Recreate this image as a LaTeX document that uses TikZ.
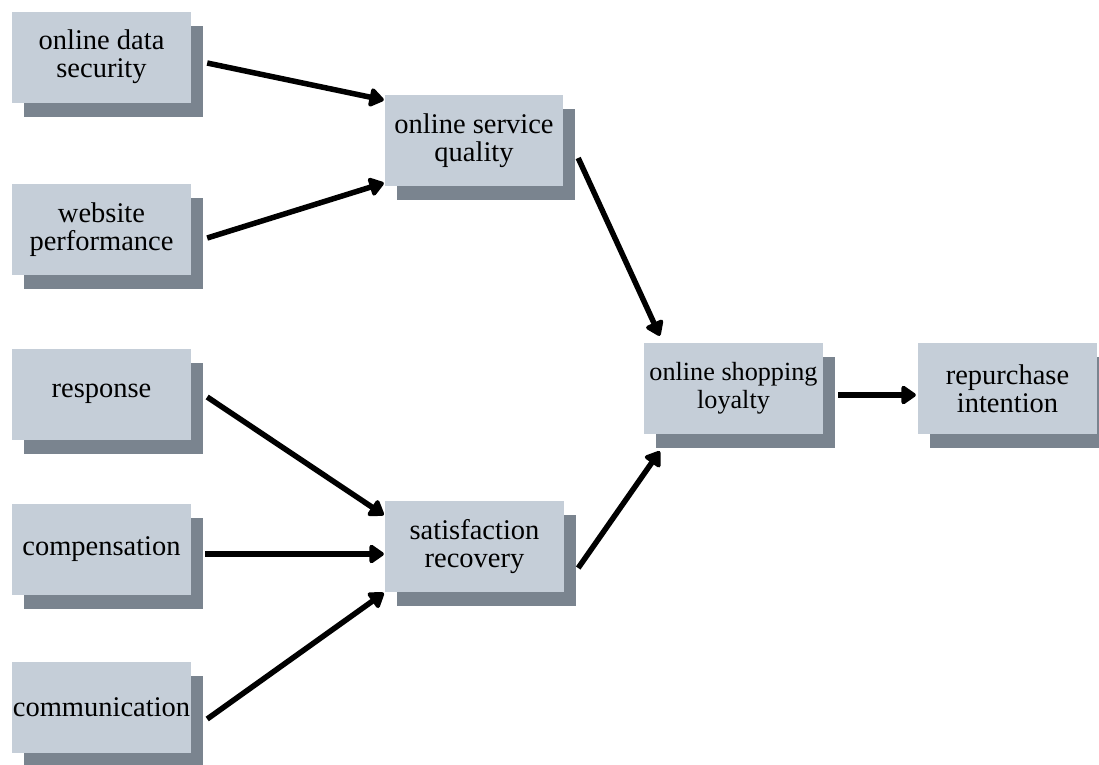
\documentclass[tikz,border=0pt]{standalone}
\usepackage{fontspec}
\setmainfont{Liberation Serif}
\usetikzlibrary{arrows.meta,shadows}
\definecolor{boxfill}{RGB}{197,206,216}
\definecolor{boxshade}{RGB}{122,132,143}
\begin{document}
\begin{tikzpicture}[x=1pt,y=-1pt,
  factor/.style={rectangle, fill=boxfill, inner sep=0pt,
    minimum width=179pt, minimum height=91pt, align=center,
    font=\fontsize{28.5}{28}\selectfont,
    drop shadow={shadow xshift=12pt, shadow yshift=-14pt,
      fill=boxshade, opacity=1}},
  link/.style={line width=5.5pt, -{Triangle[length=16pt,width=21pt,round]}}]
\useasboundingbox (0,0) rectangle (1099,764);

% input factors
\node[factor] (sec)  at (101.5,57)    {online data\\security};
\node[factor] (web)  at (101.5,229.5) {website\\performance};
\node[factor] (resp) at (101.5,394)   {response};
\node[factor] (comp) at (101.5,549.5) {compensation};
\node[factor] (comm) at (101.5,707)   {communication};

% mediating constructs
\node[factor, minimum width=178pt] (osq) at (474,140.5)   {online service\\quality};
\node[factor] (sat) at (474.5,546.5) {satisfaction\\recovery};
\node[factor, font=\fontsize{26.2}{28}\selectfont] (loy) at (733.5,388.5) {online shopping\\loyalty};
\node[factor] (rep) at (1007.5,388.5) {repurchase\\intention};

% paths
\draw[link] ([shift={(16,6)}]sec.east)  -- ([shift={(-1,-40.5)}]osq.west);
\draw[link] ([shift={(16,8.5)}]web.east) -- ([shift={(-1,42.5)}]osq.west);
\draw[link] ([shift={(15,17.5)}]osq.east) -- ([shift={(16,-7)}]loy.north west);
\draw[link] ([shift={(16,3)}]resp.east) -- ([shift={(-1,-31.5)}]sat.west);
\draw[link] ([shift={(14,4.5)}]comp.east) -- ([shift={(-1,7.5)}]sat.west);
\draw[link] ([shift={(16,12)}]comm.east) -- ([shift={(-1,46.5)}]sat.west);
\draw[link] ([shift={(14,21.5)}]sat.east) -- ([shift={(16,17)}]loy.south west);
\draw[link] ([shift={(15,6.5)}]loy.east) -- ([shift={(-2,6.5)}]rep.west);
\end{tikzpicture}
\end{document}
